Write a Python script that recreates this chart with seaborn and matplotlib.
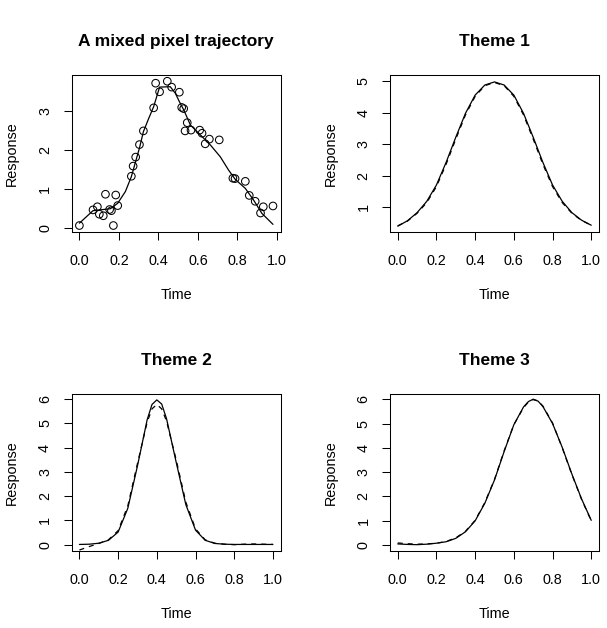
import numpy as np
import pandas as pd
import seaborn as sns
import matplotlib
matplotlib.use("Agg")
import matplotlib.pyplot as plt

# --- data ---
# panel 1: observed pixel values and the fitted trajectory
obs_time = [0.0, 0.069, 0.091, 0.101, 0.121, 0.132, 0.153, 0.162, 0.172, 0.184,
            0.194, 0.263, 0.272, 0.285, 0.304, 0.324, 0.376, 0.386, 0.406, 0.445,
            0.467, 0.506, 0.518, 0.528, 0.546, 0.535, 0.565, 0.609, 0.621, 0.637,
            0.658, 0.708, 0.777, 0.788, 0.840, 0.860, 0.890, 0.917, 0.931, 0.980]
obs_resp = [0.07, 0.47, 0.55, 0.36, 0.32, 0.87, 0.48, 0.45, 0.07, 0.85,
            0.58, 1.33, 1.59, 1.82, 2.14, 2.49, 3.08, 3.71, 3.49, 3.76,
            3.61, 3.48, 3.09, 3.06, 2.70, 2.49, 2.51, 2.51, 2.43, 2.16,
            2.28, 2.26, 1.28, 1.27, 1.20, 0.84, 0.69, 0.39, 0.55, 0.57]
fit_time = [0.0, 0.069, 0.157, 0.194, 0.233, 0.263, 0.304, 0.324, 0.351, 0.376,
            0.406, 0.46, 0.486, 0.506, 0.528, 0.562, 0.612, 0.663, 0.713, 0.755,
            0.789, 0.840, 0.882, 0.924, 0.98]
fit_resp = [0.13, 0.45, 0.50, 0.64, 0.94, 1.32, 2.05, 2.47, 2.81, 3.11,
            3.61, 3.62, 3.45, 3.24, 3.03, 2.64, 2.39, 2.13, 1.83, 1.49,
            1.25, 1.02, 0.72, 0.38, 0.10]

# theme 1
t1_time = [0.0, 0.05, 0.1, 0.15, 0.2, 0.25, 0.3, 0.35, 0.4, 0.45, 0.5,
           0.55, 0.6, 0.65, 0.7, 0.75, 0.8, 0.85, 0.9, 0.95, 1.0]
t1_true = [0.39, 0.56, 0.82, 1.18, 1.70, 2.42, 3.22, 3.98, 4.56, 4.88, 4.98,
           4.88, 4.56, 3.98, 3.22, 2.42, 1.70, 1.18, 0.82, 0.58, 0.42]
t1_est = [0.40, 0.55, 0.80, 1.14, 1.65, 2.36, 3.16, 3.93, 4.52, 4.86, 4.96,
          4.86, 4.52, 3.93, 3.16, 2.36, 1.65, 1.14, 0.80, 0.57, 0.42]

# theme 2
t2_time = [0.0, 0.05, 0.1, 0.15, 0.2, 0.25, 0.3, 0.35, 0.375, 0.4, 0.425, 0.45,
           0.5, 0.55, 0.6, 0.65, 0.7, 0.75, 0.8, 0.85, 0.9, 0.95, 1.0]
t2_true = [0.01, 0.02, 0.06, 0.18, 0.52, 1.50, 3.25, 5.15, 5.78, 5.97, 5.80, 5.20,
           3.40, 1.65, 0.60, 0.18, 0.05, 0.02, 0.01, 0.01, 0.01, 0.01, 0.01]
t2_est = [-0.22, -0.08, 0.05, 0.20, 0.58, 1.60, 3.35, 5.05, 5.60, 5.78, 5.60, 5.10,
          3.50, 1.75, 0.65, 0.20, 0.06, 0.02, 0.00, 0.02, 0.03, 0.02, 0.01]

# theme 3
t3_time = [0.0, 0.05, 0.1, 0.15, 0.2, 0.25, 0.3, 0.35, 0.4, 0.45, 0.5, 0.55,
           0.6, 0.65, 0.675, 0.7, 0.725, 0.75, 0.8, 0.85, 0.9, 0.95, 1.0]
t3_true = [0.05, 0.03, 0.02, 0.04, 0.08, 0.14, 0.28, 0.55, 1.00, 1.72, 2.68, 3.85,
           4.95, 5.68, 5.90, 6.00, 5.92, 5.70, 5.00, 4.02, 2.92, 1.90, 1.02]
t3_est = [0.09, 0.06, 0.04, 0.05, 0.08, 0.15, 0.30, 0.57, 1.02, 1.75, 2.70, 3.88,
          4.95, 5.65, 5.88, 5.98, 5.93, 5.72, 5.02, 4.00, 2.90, 1.88, 1.00]

x_ticks = [0.0, 0.2, 0.4, 0.6, 0.8, 1.0]

# --- style (R base graphics look) ---
sns.set_theme(style="ticks")
plt.rcParams['font.family'] = ['Liberation Sans', 'DejaVu Sans']
plt.rcParams['axes.unicode_minus'] = False

base_size = 10.4
title_size = 12.5
lw = 0.9

fig = plt.figure(figsize=(6.07, 6.28), dpi=100)

ax1 = fig.add_axes([0.1181, 0.6311, 0.3443, 0.2495])
ax2 = fig.add_axes([0.6425, 0.6311, 0.3443, 0.2495])
ax3 = fig.add_axes([0.1181, 0.1234, 0.3443, 0.2495])
ax4 = fig.add_axes([0.6425, 0.1234, 0.3443, 0.2495])


def style_axis(ax, title, xlim, ylim, yticks):
    ax.set_xlim(*xlim)
    ax.set_ylim(*ylim)
    ax.set_xticks(x_ticks)
    ax.set_xticklabels([f"{v:.1f}" for v in x_ticks])
    ax.set_yticks(yticks)
    ax.set_yticklabels([str(v) for v in yticks], rotation=90, va='center')
    for s in ax.spines.values():
        s.set_visible(True)
        s.set_linewidth(0.75)
        s.set_color('black')
    ax.tick_params(axis='both', direction='out', length=5.8, width=0.75,
                   color='black', labelsize=base_size, labelcolor='black')
    ax.tick_params(axis='x', pad=10.5)
    ax.tick_params(axis='y', pad=8.3)
    ax.set_xlabel('Time', fontsize=base_size, labelpad=14, color='black')
    ax.set_ylabel('Response', fontsize=base_size, labelpad=13.5, color='black')
    ax.set_title(title, fontsize=title_size, fontweight='bold', pad=21, color='black')
    ax.grid(False)
    ax.set_facecolor('white')


# panel 1: scatter + fitted line
sns.scatterplot(x=obs_time, y=obs_resp, ax=ax1, marker='o', s=30,
                facecolor='none', edgecolor='black', linewidth=0.75)
sns.lineplot(x=fit_time, y=fit_resp, ax=ax1, color='black', linewidth=lw,
             estimator=None, sort=False)
style_axis(ax1, 'A mixed pixel trajectory', (-0.039, 1.019), (-0.087, 3.92), [0, 1, 2, 3])

# themes: solid = true, dashed = estimate
panels = [
    (ax2, 'Theme 1', t1_time, t1_true, t1_est, (-0.04, 1.04), (0.215, 5.2), [1, 2, 3, 4, 5]),
    (ax3, 'Theme 2', t2_time, t2_true, t2_est, (-0.04, 1.04), (-0.24, 6.22), [0, 1, 2, 3, 4, 5, 6]),
    (ax4, 'Theme 3', t3_time, t3_true, t3_est, (-0.04, 1.04), (-0.22, 6.22), [0, 1, 2, 3, 4, 5, 6]),
]
for ax, title, tt, y_true, y_est, xl, yl, yt in panels:
    sns.lineplot(x=tt, y=y_true, ax=ax, color='black', linewidth=lw,
                 estimator=None, sort=False)
    sns.lineplot(x=tt, y=y_est, ax=ax, color='black', linewidth=lw,
                 estimator=None, sort=False, linestyle=(0, (4, 4)))
    style_axis(ax, title, xl, yl, yt)

fig.savefig('out.png', dpi=100, facecolor='white')
plt.close(fig)
